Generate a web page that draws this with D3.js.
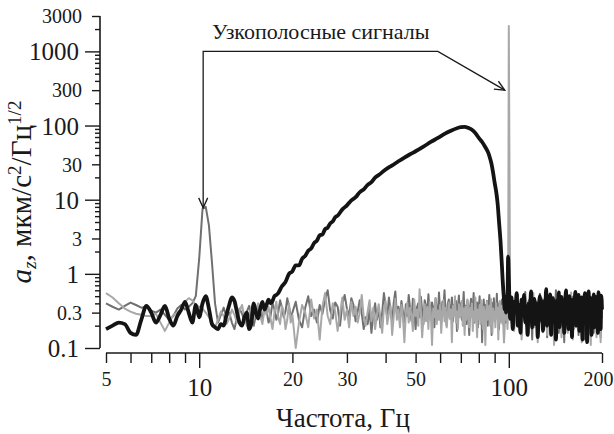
<!DOCTYPE html>
<html><head><meta charset="utf-8">
<script src="https://cdn.jsdelivr.net/npm/d3@7"></script>
<style>html,body{margin:0;padding:0;background:#fff;}svg{display:block;}</style>
</head><body>
<svg id="c" width="614" height="434"></svg>
<script>
// frequency grids (Hz)
const binsLow = d3.range(5, 20, 0.25);
const binsMid = d3.range(20, 100, 0.5);
const binsHigh = d3.range(100, 201, 1);

// light gray series
const lightLow = [0.55,0.48,0.40,0.34,0.31,0.29,0.28,0.27,0.27,0.29,
0.22,0.17,0.22,0.28,0.30,0.34,0.42,0.47,0.44,0.38,
0.36,0.34,0.30,0.26,0.22,0.19,0.24,0.31,0.27,0.21,
0.25,0.33,0.28,0.22,0.32,0.38,0.26,0.20,0.29,0.36,
0.24,0.31,0.40,0.27,0.21,0.33,0.28,0.36,0.25,0.18,
0.30,0.42,0.26,0.21,0.37,0.31,0.18,0.24,0.40,0.22];
const lightMid = [0.28,0.10,0.22,0.38,0.30,0.19,0.45,0.25,0.33,0.13,
0.36,0.55,0.27,0.21,0.40,0.31,0.17,0.29,0.48,0.24,
0.33,0.19,0.42,0.27,0.36,0.22,0.30,0.52,0.26,0.20,
0.31,0.44,0.23,0.35,0.18,0.28,0.39,0.25,0.16,0.34,
0.43,0.21,0.29,0.37,0.15,0.27,0.46,0.24,0.33,0.19,
0.38,0.26,0.12,0.30,0.41,0.22,0.35,0.28,0.17,0.45,
0.27,0.33,0.20,0.62,0.31,0.14,0.25,0.39,0.23,0.36,
0.18,0.42,0.29,0.11,0.34,0.26,0.47,0.21,0.32,0.24,
0.38,0.16,0.30,0.44,0.23,0.35,0.19,0.28,0.41,0.25,
0.33,0.12,0.37,0.27,0.50,0.22,0.31,0.18,0.39,0.26,
0.29,0.43,0.20,0.34,0.15,0.36,0.24,0.45,0.28,0.19,
0.35,0.26,0.40,0.17,0.31,0.23,0.48,0.27,0.14,0.33,
0.25,0.38,0.21,0.44,0.30,0.18,0.36,0.27,0.11,0.32,
0.42,0.24,0.29,0.37,0.20,0.46,0.28,0.16,0.34,0.26,
0.31,0.19,0.40,0.25,0.35,0.13,0.30,0.43,0.22,0.28,
0.37,0.21,0.33,0.12,0.29,0.41,0.24,0.36,0.18,0.30];
const lightHigh = [2200,
0.32,0.22,0.40,0.17,0.35,0.28,0.45,0.20,0.31,0.13,
0.38,0.26,0.50,0.21,0.34,0.16,0.43,0.29,0.24,0.55,
0.19,0.36,0.27,0.12,0.41,0.30,0.22,0.47,0.18,0.33,
0.25,0.39,0.15,0.44,0.28,0.21,0.52,0.26,0.35,0.11,
0.40,0.23,0.31,0.18,0.46,0.29,0.37,0.14,0.34,0.24,
0.49,0.20,0.32,0.42,0.16,0.27,0.38,0.22,0.56,0.30,
0.13,0.36,0.25,0.44,0.19,0.33,0.28,0.48,0.17,0.39,
0.26,0.12,0.41,0.31,0.23,0.53,0.20,0.35,0.15,0.43,
0.29,0.37,0.18,0.11,0.45,0.24,0.33,0.50,0.21,0.38,
0.27,0.14,0.42,0.30,0.58,0.19,0.36,0.12,0.44,0.25];

// dark gray series
const darkLow = [0.40,0.36,0.33,0.37,0.41,0.38,0.35,0.36,0.32,0.30,
0.33,0.28,0.24,0.27,0.34,0.38,0.33,0.36,0.40,0.50,
1.6,7.5,8.0,4.5,1.4,0.40,0.22,0.28,0.35,0.26,
0.30,0.22,0.18,0.26,0.34,0.29,0.23,0.31,0.37,0.25,
0.20,0.28,0.35,0.30,0.24,0.38,0.32,0.22,0.27,0.41,
0.33,0.24,0.30,0.44,0.35,0.26,0.31,0.47,0.36,0.27];
const darkMid = [0.30,0.42,0.24,0.19,0.35,0.50,0.27,0.33,0.22,0.38,
0.29,0.45,0.60,0.32,0.25,0.41,0.36,0.20,0.39,0.52,
0.34,0.27,0.47,0.38,0.23,0.31,0.44,0.29,0.18,0.26,
0.21,0.33,0.16,0.28,0.40,0.24,0.35,0.19,0.30,0.55,
0.37,0.26,0.48,0.32,0.22,0.41,0.58,0.29,0.36,0.25,
0.43,0.31,0.20,0.39,0.27,0.52,0.34,0.23,0.46,0.30,
0.18,0.35,0.40,0.26,0.49,0.32,0.21,0.44,0.37,0.28,
0.53,0.30,0.24,0.41,0.35,0.19,0.47,0.33,0.27,0.56,
0.31,0.22,0.42,0.36,0.60,0.28,0.20,0.39,0.45,0.25,
0.34,0.48,0.23,0.38,0.29,0.43,0.17,0.35,0.51,0.27,
0.40,0.24,0.32,0.57,0.26,0.37,0.21,0.44,0.30,0.15,
0.36,0.46,0.27,0.33,0.55,0.22,0.39,0.29,0.41,0.19,
0.34,0.50,0.26,0.37,0.12,0.31,0.45,0.24,0.38,0.28,
0.43,0.20,0.35,0.52,0.27,0.33,0.15,0.40,0.29,0.47,
0.23,0.36,0.31,0.54,0.26,0.39,0.18,0.42,0.33,0.25,
0.45,0.28,0.37,0.12,0.34,0.48,0.22,0.40,0.30,0.36];
const darkHigh = [0.35,
0.24,0.46,0.30,0.18,0.41,0.27,0.52,0.22,0.36,0.15,
0.39,0.29,0.57,0.20,0.33,0.44,0.25,0.38,0.13,0.48,
0.31,0.23,0.42,0.35,0.17,0.54,0.28,0.37,0.21,0.45,
0.26,0.40,0.14,0.34,0.50,0.23,0.38,0.30,0.19,0.43,
0.35,0.60,0.25,0.32,0.16,0.41,0.28,0.47,0.22,0.36,
0.12,0.39,0.31,0.53,0.24,0.37,0.20,0.44,0.29,0.34,
0.49,0.18,0.40,0.27,0.56,0.23,0.35,0.15,0.42,0.30,
0.38,0.21,0.46,0.26,0.33,0.13,0.51,0.28,0.40,0.24,
0.36,0.55,0.19,0.43,0.31,0.25,0.47,0.16,0.39,0.32,
0.22,0.45,0.29,0.58,0.20,0.37,0.27,0.14,0.41,0.34];

// black series: low-frequency noise (5..17.75 Hz on binsLow), broadband hump, high-frequency noise
const blackLow = [0.18,0.20,0.22,0.21,0.16,0.15,0.24,0.37,0.30,0.22,
0.28,0.37,0.25,0.20,0.27,0.33,0.42,0.30,0.22,0.38,
0.26,0.40,0.50,0.34,0.21,0.19,0.18,0.21,0.20,0.28,
0.38,0.48,0.43,0.30,0.22,0.20,0.26,0.30,0.18,0.22,
0.40,0.30,0.25,0.34,0.42,0.33,0.38,0.45,0.40,0.43,
0.50,0.52];
const humpF = [18,18.5,19,19.5,20,20.5,21,21.5,22,22.5,23,23.5,24,24.5,25,25.5,26,26.5,27,27.5,28,29,30,31,32,33,34,35,36,37,38,40,42,44,46,48,50,53,56,59,62,65,68,70,72,74,76,78,80,82,84,86,87,88,89,90,91,92,93,94,95,95.5,96,96.5,97,97.5,98,98.5,99,99.5];
const humpV = [0.55,0.68,0.78,1.0,1.08,1.3,1.3,1.6,1.75,2.05,2.2,2.6,2.8,3.3,3.4,4.0,4.2,4.8,5.1,5.8,6.1,7.4,8.4,9.8,10.8,12.6,13.8,15.8,17.2,19.8,21.5,25.5,29,33,37,41,45,52,60,68,77,85,92,95,96,93,88,79,68,60,51,42,36,30,23,17,13,9,5,2.8,1.3,0.85,0.6,0.45,0.33,0.42,0.3,0.5,0.38,1.7];
const blackHigh = [0.9,
0.25,0.48,0.18,0.42,0.30,0.55,0.20,0.38,0.16,0.45,
0.28,0.52,0.22,0.36,0.15,0.40,0.31,0.58,0.19,0.34,
0.46,0.21,0.39,0.14,0.33,0.50,0.24,0.43,0.17,0.37,
0.29,0.62,0.20,0.41,0.26,0.53,0.15,0.35,0.47,0.22,
0.38,0.13,0.44,0.27,0.56,0.19,0.33,0.49,0.23,0.40,
0.16,0.36,0.60,0.25,0.42,0.18,0.50,0.29,0.39,0.14,
0.45,0.24,0.35,0.57,0.20,0.41,0.28,0.52,0.17,0.37,
0.26,0.48,0.13,0.40,0.31,0.55,0.21,0.44,0.12,0.38,
0.58,0.23,0.34,0.47,0.15,0.42,0.27,0.53,0.19,0.36,
0.49,0.22,0.40,0.16,0.56,0.30,0.43,0.18,0.51,0.33];

// axis ticks
const yMajor = [0.1,1,10,100,1000];
const yMid = [0.3,3,30,300,3000];
const yMinor = [0.2,0.4,0.5,0.6,0.7,0.8,0.9,2,4,5,6,7,8,9,20,40,50,60,70,80,90,200,400,500,600,700,800,900,2000];
const xMajor = [10,100];
const xLabeled = [5,20,30,50,200];
const xMinor = [6,7,8,9,40,60,70,80,90];

const peakLowF = 10.3, peakLowV = 8, cornerF = 59, tipHighV = 300;
const annotText = "Узкополосные сигналы";

const svg = d3.select("#c");
const W = 614;
const x = d3.scaleLog().domain([5,200]).range([106,602]);
const y = d3.scaleLog().domain([0.1,3000]).range([348,16]);
const ink = "#1a1a1a";
const FONT = "Liberation Serif";

function zip(fs, vs){ const n=Math.min(fs.length, vs.length); const out=[]; for(let i=0;i<n;i++) out.push([fs[i],vs[i]]); return out; }
const darkData = zip(binsLow,darkLow).concat(zip(binsMid,darkMid), zip(binsHigh,darkHigh));
const lightData = zip(binsLow,lightLow).concat(zip(binsMid,lightMid), zip(binsHigh,lightHigh));
const blackData = zip(binsLow,blackLow).concat(zip(humpF,humpV), zip(binsHigh,blackHigh));

const line = d3.line().x(d=>x(d[0])).y(d=>y(d[1]));
svg.append("path").attr("d", line(darkData)).attr("fill","none").attr("stroke","#707070").attr("stroke-width",2).attr("stroke-linejoin","round");
svg.append("path").attr("d", line(lightData)).attr("fill","none").attr("stroke","#a8a8a8").attr("stroke-width",2).attr("stroke-linejoin","round");
svg.append("path").attr("d", d3.line().x(d=>x(d[0])).y(d=>y(d[1])).curve(d3.curveMonotoneX)(blackData)).attr("fill","none").attr("stroke","#141414").attr("stroke-width",3.8).attr("stroke-linejoin","round");

// y axis
const gy = svg.append("g").attr("transform","translate(100,0)");
function yAxis(vals, size, pad, fs){
  const g = gy.append("g").call(d3.axisLeft(y).tickValues(vals).tickSize(size).tickSizeOuter(0).tickPadding(pad).tickFormat(fs?d3.format("~g"):""));
  g.attr("font-family",FONT);
  g.select(".domain").remove();
  g.selectAll("line").attr("stroke",ink).attr("stroke-width",1.4);
  g.selectAll("text").attr("fill",ink).attr("font-size",fs||10).attr("font-family",FONT).attr("dy","0.34em");
}
yAxis(yMinor,5,0,0);
yAxis(yMid,8,10,20);
yAxis(yMajor,15,6,25);
gy.append("line").attr("x1",0).attr("x2",0).attr("y1",y(3000)).attr("y2",y(0.1)).attr("stroke",ink).attr("stroke-width",1.6);

// x axis
const gx = svg.append("g").attr("transform","translate(0,353)");
function xAxis(vals, size, pad, fs){
  const g = gx.append("g").call(d3.axisBottom(x).tickValues(vals).tickSize(size).tickSizeOuter(0).tickPadding(pad).tickFormat(fs?d3.format("~g"):""));
  g.attr("font-family",FONT);
  g.select(".domain").remove();
  g.selectAll("line").attr("stroke",ink).attr("stroke-width",1.4);
  g.selectAll("text").attr("fill",ink).attr("font-size",fs||10).attr("font-family",FONT);
  return g;
}
xAxis(xMinor,10,0,0);
const gLab = xAxis(xLabeled,10,9,20);
xAxis(xMajor,15,10,25);
// keep the last tick label inside the canvas
gLab.selectAll("text").each(function(){
  const b = this.getBBox(), tx = x(+d3.select(this.parentNode).datum());
  const over = tx + b.x + b.width - (W - 1);
  if (over > 0) d3.select(this).attr("x", -over);
});
gx.append("line").attr("x1",x(5)).attr("x2",x(200)).attr("y1",0).attr("y2",0).attr("stroke",ink).attr("stroke-width",1.6);

// axis titles
svg.append("text").attr("x",343).attr("y",427).attr("text-anchor","middle").attr("font-size",27).attr("font-family",FONT).attr("fill",ink).text("Частота, Гц");
const yl = svg.append("text").attr("transform","translate(31,192) rotate(-90)").attr("text-anchor","middle").attr("font-size",26).attr("font-family",FONT).attr("fill",ink);
yl.append("tspan").attr("font-style","italic").text("a");
yl.append("tspan").attr("font-style","italic").attr("font-size",17).attr("dy",5).text("z");
yl.append("tspan").attr("dy",-5).text(", мкм/с");
yl.append("tspan").attr("font-size",17).attr("dy",-10).text("2");
yl.append("tspan").attr("dy",10).text("/Гц");
yl.append("tspan").attr("font-size",17).attr("dy",-10).text("1/2");
// fit the rotated title to the reference's length
const ylLen = yl.node().getComputedTextLength();
if (ylLen > 0) {
  const k = 183 / ylLen;
  yl.attr("font-size", 26*k);
  yl.selectAll("tspan").each(function(){ const s=d3.select(this); if (s.attr("font-size")) s.attr("font-size", 17*k); });
}

// annotation
svg.append("text").attr("x",212).attr("y",39).attr("font-size",22).attr("font-family",FONT).attr("fill",ink).text(annotText);
const ax0 = x(peakLowF), ay0 = y(1000), ax1 = x(cornerF);
const tipL = [ax0, y(peakLowV)+1];
const tipR = [x(100)-4, y(tipHighV)];
const ann = svg.append("g").attr("fill","none").attr("stroke",ink).attr("stroke-width",1.3);
ann.append("path").attr("d",`M${tipL[0]},${tipL[1]}L${ax0},${ay0}L${ax1},${ay0}L${tipR[0]},${tipR[1]}`);
function head(tip, from){
  const dx=tip[0]-from[0], dy=tip[1]-from[1], L=Math.hypot(dx,dy), ux=dx/L, uy=dy/L;
  const len=10, w=4.5;
  const bx=tip[0]-ux*len, by=tip[1]-uy*len;
  ann.append("path").attr("d",`M${bx-uy*w},${by+ux*w}L${tip[0]},${tip[1]}L${bx+uy*w},${by-ux*w}`);
}
head(tipL,[ax0,ay0]);
head(tipR,[ax1,ay0]);
</script>
</body></html>
